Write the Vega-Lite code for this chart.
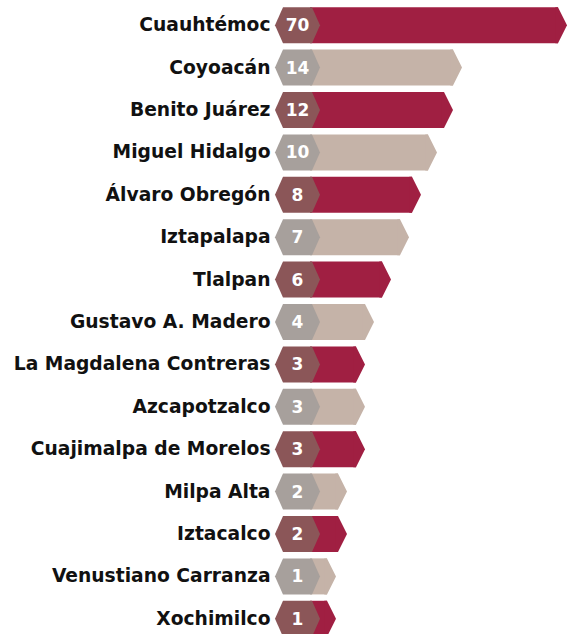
{
  "$schema": "https://vega.github.io/schema/vega-lite/v6.json",
  "width": 292,
  "height": 636,
  "autosize": {"type": "none"},
  "padding": {"left": 275, "top": 4, "right": 0, "bottom": 0},
  "background": "#ffffff",
  "title": {"text": "alcaldía:", "anchor": "start", "frame": "bounds", "font": "DejaVu Sans", "fontSize": 22, "fontWeight": "bold", "color": "#111111", "baseline": "alphabetic", "offset": 0},
  "config": {"view": {"stroke": null}},
  "data": {"values": [
    {"alcaldia": "Cuauhtémoc", "valor": 70, "tipo": "a"},
    {"alcaldia": "Coyoacán", "valor": 14, "tipo": "b"},
    {"alcaldia": "Benito Juárez", "valor": 12, "tipo": "a"},
    {"alcaldia": "Miguel Hidalgo", "valor": 10, "tipo": "b"},
    {"alcaldia": "Álvaro Obregón", "valor": 8, "tipo": "a"},
    {"alcaldia": "Iztapalapa", "valor": 7, "tipo": "b"},
    {"alcaldia": "Tlalpan", "valor": 6, "tipo": "a"},
    {"alcaldia": "Gustavo A. Madero", "valor": 4, "tipo": "b"},
    {"alcaldia": "La Magdalena Contreras", "valor": 3, "tipo": "a"},
    {"alcaldia": "Azcapotzalco", "valor": 3, "tipo": "b"},
    {"alcaldia": "Cuajimalpa de Morelos", "valor": 3, "tipo": "a"},
    {"alcaldia": "Milpa Alta", "valor": 2, "tipo": "b"},
    {"alcaldia": "Iztacalco", "valor": 2, "tipo": "a"},
    {"alcaldia": "Venustiano Carranza", "valor": 1, "tipo": "b"},
    {"alcaldia": "Xochimilco", "valor": 1, "tipo": "a"}
  ]},
  "encoding": {
    "y": {
      "field": "alcaldia", "type": "nominal", "sort": null,
      "scale": {"paddingInner": 0.15, "paddingOuter": 0.075},
      "axis": {"domain": false, "ticks": false, "title": null, "labelFont": "DejaVu Sans", "labelFontWeight": "bold", "labelFontSize": 18.7, "labelColor": "#111111", "labelPadding": 5, "labelLimit": 400}
    }
  },
  "layer": [
    {
      "mark": {"type": "bar"},
      "encoding": {
        "x": {"field": "valor", "type": "quantitative", "axis": null,
              "scale": {"domain": [-1, 0, 1, 2, 3, 4, 6, 7, 8, 10, 12, 14, 70], "range": [22.5, 35, 52, 63, 81, 90, 107, 125, 137, 153, 169, 178, 283], "nice": false, "zero": false}},
        "x2": {"datum": 0},
        "color": {"field": "tipo", "type": "nominal", "legend": null, "scale": {"domain": ["a", "b"], "range": ["#A01F42", "#C5B3A8"]}}
      }
    },
    {
      "mark": {"type": "point", "filled": true, "opacity": 1, "strokeWidth": 0, "size": 1296, "shape": "M-0.15,-1 L0,-1 L0.5,0 L0,1 L-0.15,1 Z"},
      "encoding": {
        "x": {"field": "valor", "type": "quantitative", "axis": null,
              "scale": {"domain": [-1, 0, 1, 2, 3, 4, 6, 7, 8, 10, 12, 14, 70], "range": [22.5, 35, 52, 63, 81, 90, 107, 125, 137, 153, 169, 178, 283], "nice": false, "zero": false}},
        "color": {"field": "tipo", "type": "nominal", "legend": null, "scale": {"domain": ["a", "b"], "range": ["#A01F42", "#C5B3A8"]}}
      }
    },
    {
      "mark": {"type": "point", "filled": true, "opacity": 1, "strokeWidth": 0, "size": 2025, "shape": "M-1,0 L-0.644,-0.8 L0.644,-0.8 L1,0 L0.644,0.8 L-0.644,0.8 Z"},
      "encoding": {
        "x": {"datum": -1, "type": "quantitative", "axis": null,
              "scale": {"domain": [-1, 0, 1, 2, 3, 4, 6, 7, 8, 10, 12, 14, 70], "range": [22.5, 35, 52, 63, 81, 90, 107, 125, 137, 153, 169, 178, 283], "nice": false, "zero": false}},
        "color": {"field": "tipo", "type": "nominal", "legend": null, "scale": {"domain": ["a", "b"], "range": ["#8B5658", "#A7A09C"]}}
      }
    },
    {
      "mark": {"type": "text", "align": "center", "baseline": "middle", "dy": 1, "font": "DejaVu Sans", "fontWeight": "bold", "fontSize": 17, "color": "#ffffff"},
      "encoding": {
        "x": {"datum": -1, "type": "quantitative", "axis": null,
              "scale": {"domain": [-1, 0, 1, 2, 3, 4, 6, 7, 8, 10, 12, 14, 70], "range": [22.5, 35, 52, 63, 81, 90, 107, 125, 137, 153, 169, 178, 283], "nice": false, "zero": false}},
        "text": {"field": "valor", "type": "quantitative"}
      }
    }
  ],
  "resolve": {"scale": {"color": "independent"}}
}
